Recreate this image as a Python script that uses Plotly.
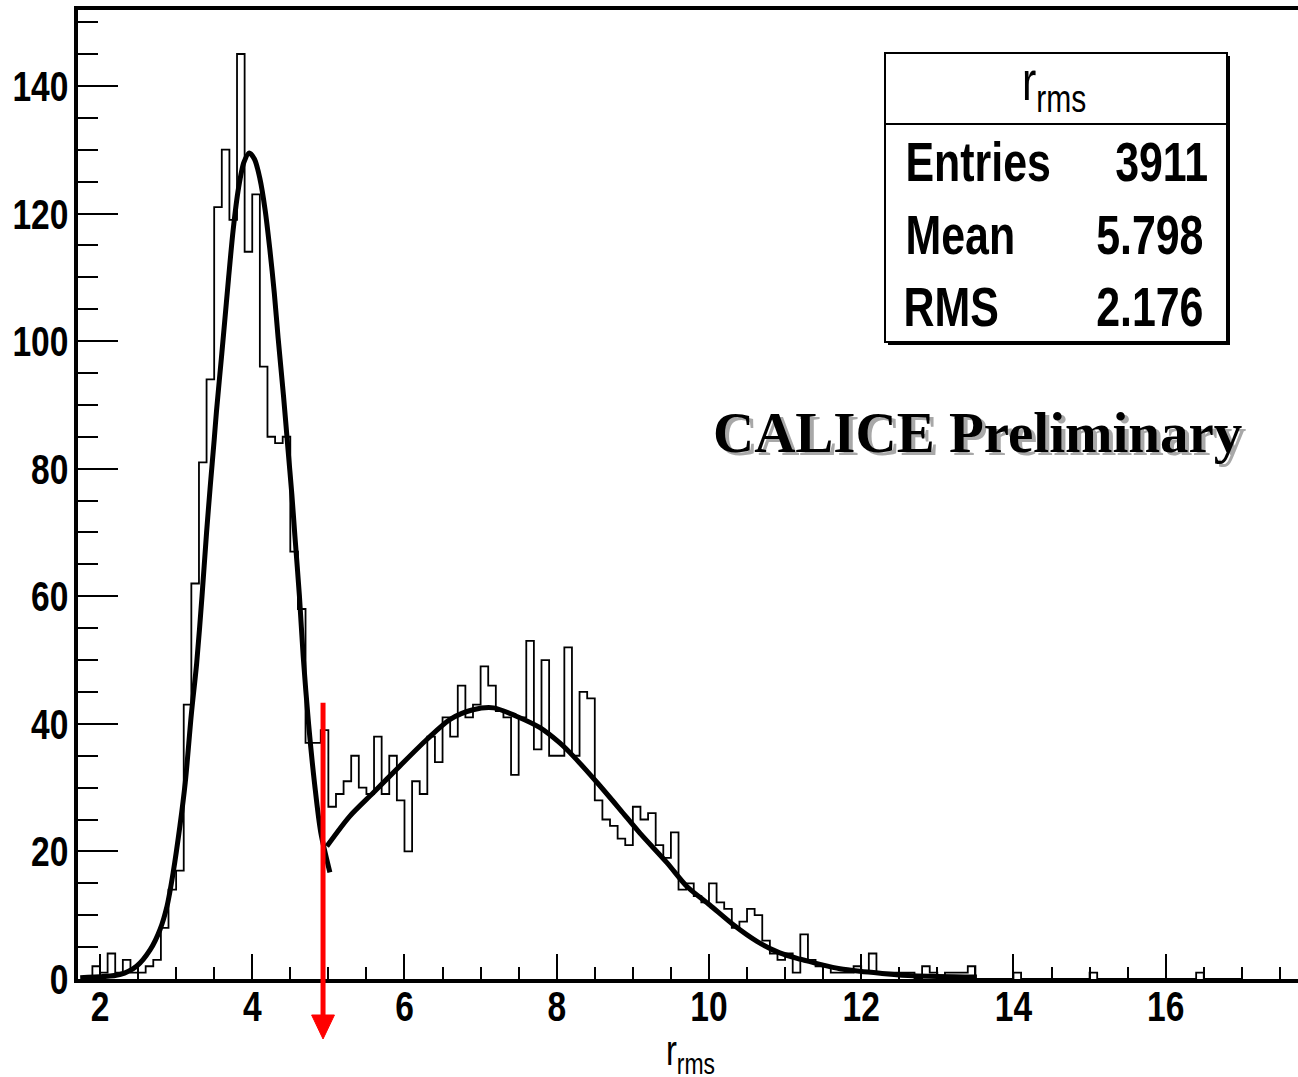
import numpy as np
import plotly.graph_objects as go

# ---------------------------------------------------------------
# r_rms histogram: 0.1-wide bins, first bin starts at 1.9
# ---------------------------------------------------------------
bin_start = 1.9
bin_width = 0.1
counts = (
    [2]
    + [1, 4, 1, 3, 1, 1, 2, 3, 8, 14]              # 2.0 - 2.9
    + [17, 43, 62, 81, 94, 121, 130, 119, 145, 114]  # 3.0 - 3.9
    + [123, 96, 85, 84, 85, 67, 58, 37, 37, 39]    # 4.0 - 4.9
    + [27, 29, 31, 35, 30, 29, 38, 29, 35, 28]     # 5.0 - 5.9
    + [20, 31, 29, 38, 34, 41, 38, 46, 41, 43]     # 6.0 - 6.9
    + [49, 46, 42, 41, 32, 41, 53, 36, 50, 35]     # 7.0 - 7.9
    + [35, 52, 35, 45, 44, 28, 25, 24, 22, 21]     # 8.0 - 8.9
    + [27, 25, 26, 21, 19, 23, 14, 15, 13, 12]     # 9.0 - 9.9
    + [15, 12, 11, 8, 9, 11, 10, 6, 4, 3]          # 10.0 - 10.9
    + [4, 1, 7, 3, 2, 2, 1, 1, 1, 2]               # 11.0 - 11.9
    + [1, 4, 1, 1, 1, 1, 1, 0, 2, 1]               # 12.0 - 12.9
    + [0, 1, 1, 1, 2, 0, 0, 0, 0, 0]               # 13.0 - 13.9
    + [1, 0, 0, 0, 0, 0, 0, 0, 0, 0]               # 14.0 - 14.9
    + [1, 0, 0, 0, 0, 0, 0, 0, 0, 0]               # 15.0 - 15.9
    + [0, 0, 0, 0, 1, 0, 0, 0, 0, 0]               # 16.0 - 16.9
)

# Fitted curves, sampled along the drawn fit
fit_narrow_x = [1.74, 2.26, 2.48, 2.66, 2.79, 2.88, 2.96, 3.05, 3.12, 3.20,
                3.27, 3.34, 3.40, 3.45, 3.50, 3.53, 3.60, 3.66, 3.69, 3.75,
                3.82, 3.89, 3.96, 4.03, 4.10, 4.17, 4.23, 4.29, 4.34, 4.41,
                4.47, 4.52, 4.56, 4.62, 4.67, 4.74, 4.82, 4.90, 5.02]
fit_narrow_y = [0.2, 0.7, 2.0, 4.6, 7.8, 11.4, 16.6, 24.0, 30.8, 41.5,
                49.5, 60.0, 70.0, 77.5, 84.5, 89.0, 98.0, 106.0, 110.0, 117.5,
                124.0, 128.0, 129.5, 128.5, 125.5, 120.5, 114.5, 107.5, 100.5, 91.5,
                83.0, 76.0, 69.5, 60.0, 50.5, 40.0, 30.5, 23.0, 16.7]

fit_wide_x = [4.98, 5.28, 5.59, 5.94, 6.29, 6.60, 6.90, 7.17, 7.47, 7.78,
              8.04, 8.22, 8.53, 8.83, 9.09, 9.45, 9.71, 10.01, 10.32, 10.63,
              10.93, 11.20, 11.46, 11.72, 11.98, 12.25, 12.68, 13.52]
fit_wide_y = [20.8, 25.5, 29.2, 33.4, 37.5, 40.7, 42.2, 42.5, 41.2, 39.4,
              37.0, 34.9, 30.8, 26.6, 22.9, 18.2, 14.5, 11.6, 8.5, 5.9,
              4.1, 3.1, 2.3, 1.6, 1.2, 0.9, 0.5, 0.3]

x_ticks = [2, 4, 6, 8, 10, 12, 14, 16]
y_ticks = [0, 20, 40, 60, 80, 100, 120, 140]

stats_title = "r<sub>rms</sub>"
stats_labels = ["Entries", "Mean", "RMS"]
stats_values = ["3911", "5.798", "2.176"]

cut_value = 4.93       # selection cut marked by the red arrow
cut_arrow_top = 43.3

x_range = [1.711, 17.738]
y_range = [0, 151.9]

# ---------------------------------------------------------------
# page geometry (pixels) and helpers to place overlays
# ---------------------------------------------------------------
W, H = 1298, 1077
M_L, M_R, M_T, M_B = 78, 0, 10, 98
PW = W - M_L - M_R
PH = H - M_T - M_B


def fx(px):
    return (px - M_L) / PW


def fy(py):
    return (M_T + PH - py) / PH


SANS = "Liberation Sans, Arial, sans-serif"
SERIF = "Liberation Serif, Times New Roman, serif"
RED = "#ff0000"

# histogram outline (step line, ROOT style)
edges = bin_start + bin_width * np.arange(len(counts) + 1)
hx = [edges[0]] + list(edges[:-1]) + [edges[-1]]
hy = [0] + list(counts) + [0]

fig = go.Figure()
fig.add_trace(go.Scatter(x=hx, y=hy, mode="lines", line_shape="hv",
                         line=dict(color="black", width=1.8), hoverinfo="skip"))
fig.add_trace(go.Scatter(x=fit_narrow_x, y=fit_narrow_y, mode="lines",
                         line=dict(color="black", width=5, shape="spline", smoothing=0.8)))
fig.add_trace(go.Scatter(x=fit_wide_x, y=fit_wide_y, mode="lines",
                         line=dict(color="black", width=5, shape="spline", smoothing=0.8)))

tick_font = dict(family=SANS, size=43, color="black", weight="bold")
fig.update_layout(
    width=W, height=H,
    margin=dict(l=M_L, r=M_R, t=M_T, b=M_B),
    paper_bgcolor="white", plot_bgcolor="white",
    showlegend=False,
    xaxis=dict(
        range=x_range, showgrid=False, zeroline=False, automargin=False,
        showline=True, linewidth=4, linecolor="black", mirror=True,
        ticks="inside", ticklen=25, tickwidth=2, tickcolor="black",
        tickvals=x_ticks, ticktext=[str(v) for v in x_ticks],
        tickfont=tick_font, ticklabelstandoff=-14,
        minor=dict(ticks="inside", ticklen=12, tickwidth=2, tickcolor="black",
                   dtick=0.5, tick0=0, showgrid=False),
    ),
    yaxis=dict(
        range=y_range, showgrid=False, zeroline=False, automargin=False,
        showline=True, linewidth=4, linecolor="black", mirror=False,
        ticks="inside", ticklen=40, tickwidth=2, tickcolor="black",
        tickvals=y_ticks, ticktext=[str(v) for v in y_ticks],
        tickfont=tick_font, ticklabelstandoff=-3,
        minor=dict(ticks="inside", ticklen=20, tickwidth=2, tickcolor="black",
                   dtick=5, tick0=0, showgrid=False),
    ),
)

# statistics box with drop shadow
box = dict(x0=885, y0=53, x1=1227, y1=342)
fig.add_shape(type="rect", xref="paper", yref="paper",
              x0=fx(box["x0"] + 3), x1=fx(box["x1"] + 3),
              y0=fy(box["y1"] + 3), y1=fy(box["y0"] + 3),
              fillcolor="black", line=dict(width=0))
fig.add_shape(type="rect", xref="paper", yref="paper",
              x0=fx(box["x0"]), x1=fx(box["x1"]),
              y0=fy(box["y1"]), y1=fy(box["y0"]),
              fillcolor="white", line=dict(color="black", width=2))
fig.add_shape(type="line", xref="paper", yref="paper",
              x0=fx(box["x0"]), x1=fx(box["x1"]), y0=fy(124), y1=fy(124),
              line=dict(color="black", width=2))

stat_font = dict(family=SANS, size=55, color="black", weight="bold")
fig.add_annotation(xref="paper", yref="paper", x=fx(1054), y=fy(85),
                   text=stats_title, showarrow=False, xanchor="center", yanchor="middle",
                   font=dict(family=SANS, size=55, color="black"))
label_centres = [978, 960, 951]
value_centres = [1161, 1150, 1150]
for i, (lab, val) in enumerate(zip(stats_labels, stats_values)):
    yc = fy(162 + 72.5 * i)
    fig.add_annotation(xref="paper", yref="paper", x=fx(label_centres[i]), y=yc, text=lab,
                       showarrow=False, xanchor="center", yanchor="middle", font=stat_font)
    fig.add_annotation(xref="paper", yref="paper", x=fx(value_centres[i]), y=yc, text=val,
                       showarrow=False, xanchor="center", yanchor="middle", font=stat_font)

# CALICE Preliminary label with grey drop shadow
for d, col in [(4, "#a8a8a8"), (0, "black")]:
    fig.add_annotation(xref="paper", yref="paper", x=fx(977 + d), y=fy(432 + d),
                       text="CALICE Preliminary", showarrow=False,
                       xanchor="center", yanchor="middle",
                       font=dict(family=SERIF, size=57, color=col, weight="bold"))

# x-axis title
fig.add_annotation(xref="paper", yref="paper", x=fx(690), y=fy(1053),
                   text="r<sub>rms</sub>", showarrow=False, xanchor="center", yanchor="middle",
                   font=dict(family=SANS, size=42, color="black"))

# red arrow marking the cut: shaft from the cut level down past the axis, then the head
head_half = 0.15
fig.add_shape(type="line", xref="x", yref="paper",
              x0=cut_value, x1=cut_value,
              y0=cut_arrow_top / y_range[1], y1=fy(1018),
              line=dict(color=RED, width=5))
fig.add_shape(type="path", xref="x", yref="paper",
              path=(f"M {cut_value - head_half},{fy(1015)} "
                    f"L {cut_value + head_half},{fy(1015)} "
                    f"L {cut_value},{fy(1039)} Z"),
              fillcolor=RED, line=dict(color=RED, width=1))

# Helvetica-narrow look: compress sans-serif labels horizontally about their anchor
squeeze_js = """
var gd = document.getElementById('{plot_id}');
function squeezeText() {
  gd.querySelectorAll('.xtick text, .ytick text, .annotation-text').forEach(function (t) {
    var ff = t.style.fontFamily || '';
    if (ff.indexOf('Serif') >= 0) { return; }
    var tr = t.getAttribute('transform') || '';
    if (tr.indexOf('scale(') >= 0) { return; }
    var x = parseFloat(t.getAttribute('x')) || 0;
    t.setAttribute('transform', tr + ' translate(' + x + ',0) scale(0.78,1) translate(' + (-x) + ',0)');
  });
}
squeezeText();
gd.on('plotly_afterplot', squeezeText);
"""

fig.write_html("out.html", post_script=squeeze_js)
